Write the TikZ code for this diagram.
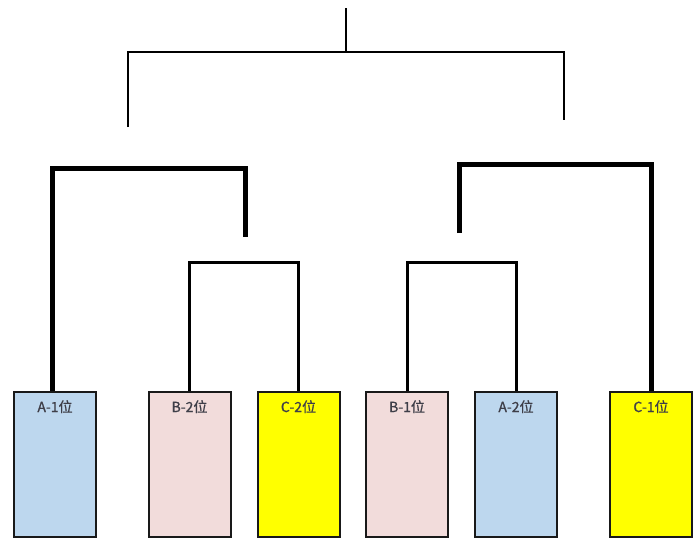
\documentclass[tikz,border=0pt]{standalone}
\usepackage{fontspec}
\newfontfamily\cjk{Noto Sans CJK SC}
\definecolor{boxblue}{HTML}{BDD7EE}
\definecolor{boxpink}{HTML}{F2DCDB}
\definecolor{boxyellow}{HTML}{FFFF00}
\definecolor{labelgray}{HTML}{3E3E48}
\begin{document}
\begin{tikzpicture}[x=1pt,y=-1pt,
    leaf/.style={draw=black!90,line width=2pt,minimum width=82pt,minimum height=145pt,inner sep=0pt},
    leaftext/.style={text=labelgray,font=\cjk\fontsize{14}{14}\selectfont,inner sep=0pt},
    topline/.style={line width=2.8pt},
    midline/.style={line width=5pt},
    lowline/.style={line width=3pt}]
      \useasboundingbox (0,0) rectangle (697,541);
      % leaves
      \node[leaf,fill=boxblue] (a1) at (55,464.5) {};
      \node[leaf,fill=boxpink] (b2) at (189.5,464.5) {};
      \node[leaf,fill=boxyellow] (c2) at (298.5,464.5) {};
      \node[leaf,fill=boxpink] (b1) at (407,464.5) {};
      \node[leaf,fill=boxblue] (a2) at (516,464.5) {};
      \node[leaf,fill=boxyellow] (c1) at (651,464.5) {};
      \node[leaftext,below=9pt] (a1t) at (a1.north) {\addfontfeature{FakeBold=1}A-1位};
      \node[leaftext,below=9pt] (b2t) at (b2.north) {\addfontfeature{FakeBold=1}B-2位};
      \node[leaftext,below=9pt] (c2t) at (c2.north) {\addfontfeature{FakeBold=1}C-2位};
      \node[leaftext,below=9pt] (b1t) at (b1.north) {\addfontfeature{FakeBold=1}B-1位};
      \node[leaftext,below=9pt] (a2t) at (a2.north) {\addfontfeature{FakeBold=1}A-2位};
      \node[leaftext,below=9pt] (c1t) at (c1.north) {\addfontfeature{FakeBold=1}C-1位};
      % joints
      \coordinate (root) at (346,8);
      \coordinate (top) at (346,52);
      \coordinate (tl) at (128,127);
      \coordinate (tr) at (564,120);
      \coordinate (ml) at (245,237);
      \coordinate (mr) at (459,233);
      \coordinate (lbar) at (0,168);
      \coordinate (rbar) at (0,164);
      \coordinate (sbar) at (0,262);
      % tree
      \draw[topline] (root) -- (top);
      \draw[topline] (tl) -- (tl |- top) -- (tr |- top) -- (tr);
      \draw[midline] ([xshift=-3pt]a1.north) -- ([xshift=-3pt]a1.north |- lbar) -| (ml);
      \draw[midline] (mr) -- (mr |- rbar) -| (c1.north);
      \draw[lowline] (b2.north) -- (b2.north |- sbar) -| (c2.north);
      \draw[lowline] (b1.north) -- (b1.north |- sbar) -| (a2.north);
    \end{tikzpicture}
\end{document}
